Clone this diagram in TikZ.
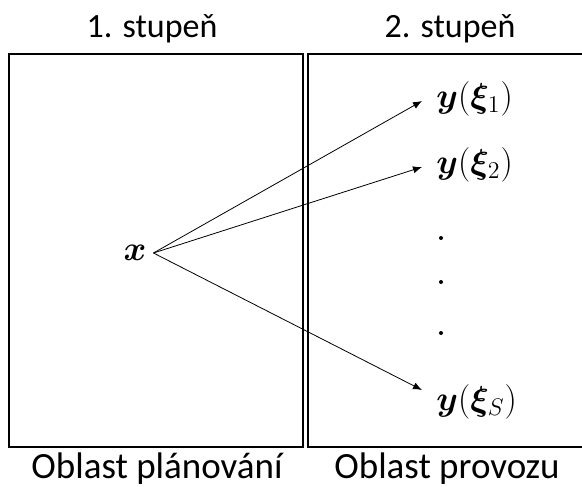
\documentclass[tikz,border=0pt]{standalone}
\usepackage{fontspec}
\setmainfont{Carlito}
\usepackage{amsmath}
\usepackage{bm}
\usetikzlibrary{arrows.meta}
\begin{document}
\begin{tikzpicture}[x=0.5pt,y=-0.5pt,>={Latex[length=4.5pt,width=3.6pt]},thin,
  lbl/.style={anchor=base,font=\fontsize{17}{20}\selectfont},
  area/.style={anchor=base,font=\fontsize{18.5}{22}\selectfont},
  ylbl/.style={anchor=west,inner xsep=7pt,font=\fontsize{17}{20}\selectfont},
  dot/.style={circle,fill,inner sep=0pt,minimum size=2pt}]
\useasboundingbox (0,0) rectangle (582,486);
% the two areas
\draw[line width=1pt] (9,54) rectangle (303,447);
\draw[line width=1pt] (584,54) -- (308,54) -- (308,447) -- (584,447);

\node[lbl] (st1) at (152,38) {1. stupeň};
\node[lbl] (st2) at (450,38) {2. stupeň};
\node[area] (ob1) at (157,478) {Oblast plánování};
\node[area] (ob2) at (447,478) {Oblast provozu};

\node[font=\fontsize{17}{20}\selectfont] (x) at (135,253) {$\bm{x}$};
\node[ylbl] (y1) at (422,99) {$\bm{y}(\bm{\xi}_1)$};
\node[ylbl] (y2) at (422,165) {$\bm{y}(\bm{\xi}_2)$};
\node[ylbl] (yS) at (422,402) {$\bm{y}(\bm{\xi}_S)$};

\node[dot] (d1) at (441,238) {};
\node[dot] (d2) at (441,282) {};
\node[dot] (d3) at (441,333) {};

\draw[->] (x.east) -- ([yshift=-1pt]y1.west);
\draw[->] (x.east) -- ([yshift=-1pt]y2.west);
\draw[->] (x.east) -- ([yshift=6pt]yS.west);
\end{tikzpicture}
\end{document}
